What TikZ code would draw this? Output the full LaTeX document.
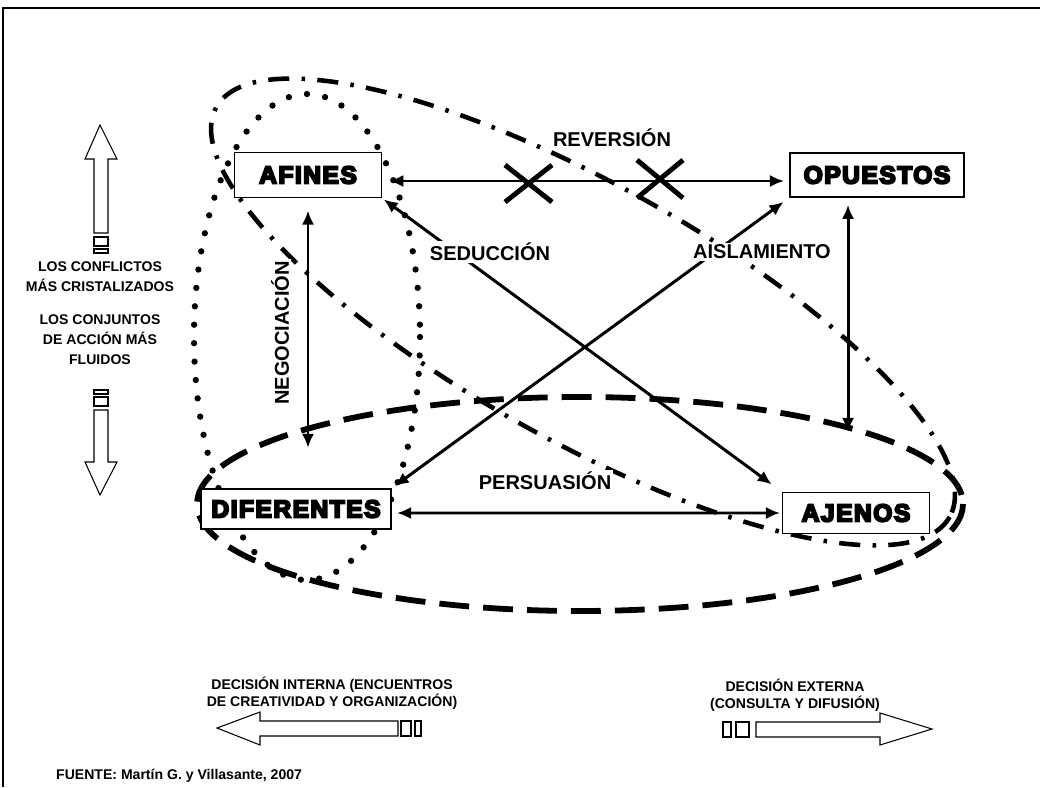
\documentclass[tikz,border=0pt]{standalone}
\usepackage{fontspec}
\setmainfont{Liberation Sans}
\newfontfamily\boxfont{Liberation Sans Bold}[FakeBold=8,LetterSpace=6]
\usetikzlibrary{arrows.meta}

\begin{document}
\begin{tikzpicture}[x=0.02cm,y=-0.02cm,>={Latex[length=8pt,width=7pt]},
 box/.style={draw,fill=white,line width=0.9pt,inner sep=0pt,font=\boxfont\fontsize{14}{16}\selectfont},
 lbl/.style={fill=white,inner sep=1pt,font=\bfseries\fontsize{11.4}{13}\selectfont},
 note/.style={font=\bfseries\fontsize{8}{11.3}\selectfont,align=center},
 smallnote/.style={font=\bfseries\fontsize{8}{9.6}\selectfont,align=center},
 link/.style={<->,line width=1.7pt},
 blk/.style={draw,line width=0.6pt,fill=white}]
 \useasboundingbox (0,0) rectangle (1040,787);
 % frame
 \draw[line width=1.2pt] (3,787) -- (3,8) -- (1040,8);

 % groupings
 \draw[line width=3.6pt,line cap=round,dash pattern=on 0pt off 10.5pt] (307,337) ellipse [x radius=113,y radius=243];
 \draw[line width=3.3pt,dash pattern=on 17pt off 8pt] (580,504) ellipse [x radius=383,y radius=107];
 \draw[line width=2.6pt,dash pattern=on 12pt off 7pt on 2pt off 7pt,rotate around={-29.2:(583,312)}] (583,312) ellipse [x radius=420,y radius=128];

 % 4 nodes
 \node[box,minimum width=2.94cm,minimum height=0.9cm] (afines) at (308,175) {AFINES};
 \node[box,minimum width=3.48cm,minimum height=0.88cm] (opuestos) at (877,175) {OPUESTOS};
 \node[box,minimum width=3.8cm,minimum height=0.8cm] (diferentes) at (296,509) {DIFERENTES};
 \node[box,minimum width=2.94cm,minimum height=0.82cm] (ajenos) at (856,513) {AJENOS};

 % relations
 \draw[link,shorten <=4pt,shorten >=3pt] ([yshift=-0.12cm]afines.east) -- ([yshift=-0.12cm]opuestos.west);
 \draw[link,shorten <=1pt,shorten >=7pt] (afines.south east) -- (ajenos.north west);
 \draw[link,shorten <=2pt,shorten >=4pt] (diferentes.north east) -- (opuestos.south west);
 \draw[link,shorten <=7pt,shorten >=23pt] (afines.south) -- (afines.south |- diferentes.north);
 \draw[link,shorten <=4pt,shorten >=34pt] ([xshift=-0.58cm]opuestos.south) -- ([xshift=-0.58cm]opuestos.south |- ajenos.north);
 \draw[link,shorten <=3pt,shorten >=1pt] ([yshift=-0.08cm]diferentes.east) -- (ajenos.west);

 % crosses on the reversion
 \draw[line width=2.8pt] (505,165) -- (552,202) (505,202) -- (552,165);
 \draw[line width=2.8pt] (637,160) -- (683,198) (637,198) -- (683,160);

 % edge labels
 \node[lbl] (reversion) at (612,138) {REVERSIÓN};
 \node[lbl] (seduccion) at (490,252) {SEDUCCIÓN};
 \node[lbl] (aislamiento) at (762,252) {AISLAMIENTO};
 \node[lbl] (persuasion) at (545,481) {PERSUASIÓN};
 \node[lbl,rotate=90] (negociacion) at (280,333) {NEGOCIACIÓN};

 % side scale
 \draw[blk] (100,125) -- (117,159) -- (108,159) -- (108,233) -- (94,233) -- (94,159) -- (85,159) -- cycle;
 \draw[blk] (94,237) rectangle (108,246);
 \draw[blk] (94,249) rectangle (108,253);
 \node[note] (conflictos) at (100,277) {LOS CONFLICTOS\\MÁS CRISTALIZADOS};
 \node[note] (conjuntos) at (100,340) {LOS CONJUNTOS\\DE ACCIÓN MÁS\\FLUIDOS};
 \draw[blk] (94,390) rectangle (108,394);
 \draw[blk] (94,397) rectangle (108,406);
 \draw[blk] (94,410) -- (108,410) -- (108,462) -- (117,462) -- (100,495) -- (85,462) -- (94,462) -- cycle;

 % bottom scale
 \node[smallnote] (interna) at (332,693) {DECISIÓN INTERNA (ENCUENTROS\\DE CREATIVIDAD Y ORGANIZACIÓN)};
 \draw[blk] (217,728) -- (260,712) -- (260,721) -- (398,721) -- (398,736) -- (260,736) -- (260,745) -- cycle;
 \draw[blk] (401,721) rectangle (411,736);
 \draw[blk] (415,721) rectangle (421,736);
 \node[smallnote] (externa) at (795,695) {DECISIÓN EXTERNA\\(CONSULTA Y DIFUSIÓN)};
 \draw[blk] (723,722) rectangle (731,737);
 \draw[blk] (736,722) rectangle (749,737);
 \draw[blk] (756,722) -- (880,722) -- (880,713) -- (932,729) -- (880,745) -- (880,737) -- (756,737) -- cycle;

 \node[anchor=west,font=\bfseries\fontsize{8}{10}\selectfont] (fuente) at (50,776) {FUENTE: Martín G. y Villasante, 2007};
\end{tikzpicture}
\end{document}
